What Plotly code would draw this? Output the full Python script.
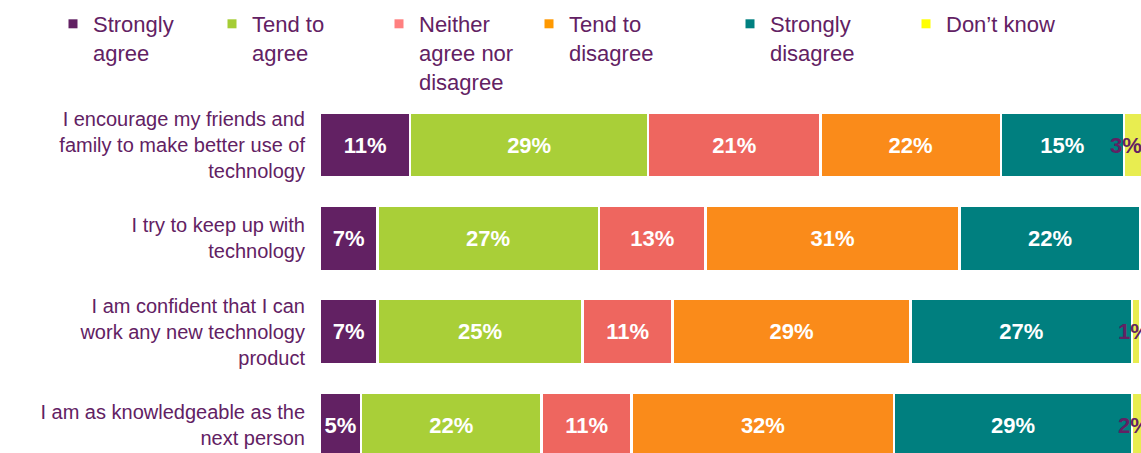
import plotly.graph_objects as go

categories = [
    "I encourage my friends and<br>family to make better use of<br>technology",
    "I try to keep up with<br>technology",
    "I am confident that I can<br>work any new technology<br>product",
    "I am as knowledgeable as the<br>next person",
]
series_names = [
    "Strongly<br>agree",
    "Tend to<br>agree",
    "Neither<br>agree nor<br>disagree",
    "Tend to<br>disagree",
    "Strongly<br>disagree",
    "Don’t know",
]
strongly_agree = [11, 7, 7, 5]
tend_to_agree = [29, 27, 25, 22]
neither = [21, 13, 11, 11]
tend_to_disagree = [22, 31, 29, 32]
strongly_disagree = [15, 22, 27, 29]
dont_know = [3, 0, 1, 2]

series_values = [strongly_agree, tend_to_agree, neither, tend_to_disagree, strongly_disagree, dont_know]
bar_colors = ["#622163", "#A9CF38", "#EE665F", "#FA8B1A", "#007F7F", "#E8ED50"]
legend_colors = ["#622163", "#A5CD35", "#FF8080", "#FF9900", "#008080", "#FFFF00"]
legend_text_x = [93, 252, 419, 569, 770, 946]   # page x where each legend text starts

TEXT_COLOR = "#622163"
FONT = "Arial, Liberation Sans, sans-serif"
W, H = 1141, 453
ML, MT = 320, 99
PW, PH = W - ML, H - MT

fig = go.Figure()

for i, (name, vals) in enumerate(zip(series_names, series_values)):
    is_dk = i == len(series_values) - 1
    fig.add_trace(go.Bar(
        y=categories, x=vals, orientation="h", name=name,
        marker=dict(color=bar_colors[i], line=dict(color="white", width=2.5)),
        text=None if is_dk else [f"{v}%" for v in vals],
        textposition="none" if is_dk else "inside",
        insidetextanchor="middle",
        textfont=dict(family=FONT, size=22, color="white", weight="bold"),
        showlegend=False, width=0.70, cliponaxis=False,
    ))

# Legend entries (one legend per entry so each can be placed individually)
layout_legends = {}
for i, name in enumerate(series_names):
    lkey = "legend" if i == 0 else f"legend{i+1}"
    fig.add_trace(go.Scatter(
        x=[None], y=[None], mode="markers", name=name,
        marker=dict(symbol="square", size=9, color=legend_colors[i]),
        legend=lkey, showlegend=True,
    ))
    layout_legends[lkey] = dict(
        x=(legend_text_x[i] - 40 - ML) / PW, xref="paper", xanchor="left",
        y=1 + (MT - 3) / PH, yref="paper", yanchor="top",
        valign="top", bgcolor="rgba(0,0,0,0)", borderwidth=0,
        font=dict(family=FONT, size=22, color=TEXT_COLOR),
        tracegroupgap=0,
    )

# Labels for the narrow "Don't know" segments
for i, cat in enumerate(categories):
    if dont_know[i] > 0:
        start = sum(s[i] for s in series_values[:-1])
        fig.add_annotation(
            x=start, y=cat, text=f"{dont_know[i]}%", showarrow=False,
            xanchor="center", yanchor="middle", xshift=2,
            font=dict(family=FONT, size=22, color=TEXT_COLOR, weight="bold"),
        )

fig.update_layout(
    width=W, height=H, barmode="stack",
    margin=dict(l=ML, r=0, t=MT, b=0, autoexpand=False),
    plot_bgcolor="white", paper_bgcolor="white",
    xaxis=dict(range=[0, 100.1], visible=False, fixedrange=True),
    yaxis=dict(
        type="category", categoryorder="array", categoryarray=categories,
        range=[3.3, -0.493], showgrid=False, zeroline=False, showline=False,
        ticks="", ticklabelstandoff=14, fixedrange=True,
        tickfont=dict(family=FONT, size=20, color=TEXT_COLOR),
    ),
    **layout_legends,
)

fig.write_html(
    "out.html",
    config={"displayModeBar": False},
    post_script="document.body.style.margin='0';document.body.style.overflow='hidden';",
)
